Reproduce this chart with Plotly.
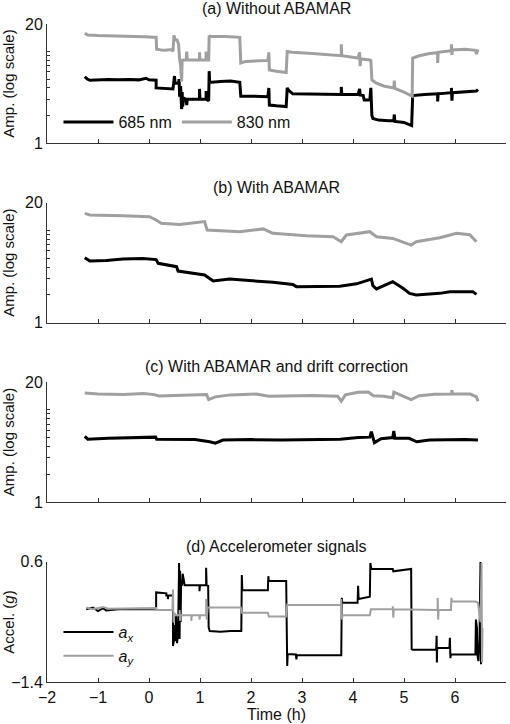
import plotly.graph_objects as go

# ---------------- data ----------------
# (a) Without ABAMAR
a685_t = [-1.26, -1.21, -1.16, -1.0, -0.8, -0.6, -0.4, -0.2, -0.06, 0.0, 0.14, 0.14, 0.30, 0.47, 0.50, 0.51,
          0.58, 0.59, 0.60, 0.62, 0.64, 0.65, 0.66, 0.68, 0.73, 0.74, 0.75, 0.99, 0.99, 1.0, 1.12, 1.12, 1.13,
          1.17, 1.18, 1.19, 1.4, 1.6, 1.78, 1.80, 2.0, 2.33, 2.35, 2.36, 2.5, 2.69, 2.71, 2.74, 2.82, 3.2, 3.5,
          3.77, 3.77, 3.78, 4.10, 4.13, 4.14, 4.20, 4.22, 4.33, 4.35, 4.37, 4.39, 4.5, 4.7, 4.80, 4.81, 4.82,
          5.0, 5.10, 5.15, 5.17, 5.25, 5.4, 5.66, 5.66, 5.67, 5.93, 5.93, 5.94, 5.95, 6.2, 6.42, 6.45]
a685_v = [5.3, 5.0, 4.85, 4.9, 4.95, 4.9, 4.95, 4.9, 5.1, 4.9, 4.85, 4.0, 3.95, 3.9, 5.4, 4.5,
          4.5, 5.0, 3.2, 4.2, 2.35, 3.6, 2.5, 3.1, 3.0, 2.6, 3.0, 3.0, 3.9, 3.0, 3.0, 3.7, 3.0,
          2.9, 6.1, 4.6, 4.7, 4.75, 4.6, 3.25, 3.25, 3.2, 4.0, 2.6, 2.55, 2.5, 4.0, 3.75, 3.45, 3.45, 3.42,
          3.4, 4.1, 3.4, 3.4, 3.9, 3.35, 3.3, 2.95, 2.95, 4.0, 2.0, 1.85, 1.78, 1.75, 1.75, 2.05, 1.72,
          1.68, 1.6, 1.55, 3.3, 3.35, 3.4, 3.45, 2.85, 3.45, 3.55, 4.0, 2.9, 3.55, 3.6, 3.7, 3.85]

a830_t = [-1.26, -1.2, -1.0, -0.7, -0.4, -0.1, 0.1, 0.14, 0.15, 0.30, 0.45, 0.47, 0.49, 0.51, 0.55, 0.58,
          0.60, 0.62, 0.64, 0.65, 0.68, 0.73, 0.74, 0.75, 0.99, 0.99, 1.0, 1.12, 1.12, 1.13, 1.17, 1.18, 1.2,
          1.5, 1.78, 1.80, 1.9, 2.2, 2.33, 2.35, 2.36, 2.5, 2.69, 2.71, 2.8, 3.2, 3.5, 3.77, 3.77, 3.78, 4.1,
          4.13, 4.14, 4.15, 4.33, 4.35, 4.37, 4.45, 4.6, 4.8, 4.81, 4.82, 5.0, 5.14, 5.16, 5.17, 5.3, 5.5,
          5.66, 5.66, 5.67, 5.93, 5.93, 5.94, 5.95, 6.2, 6.40, 6.42, 6.45]
a830_v = [15.8, 15.2, 15.0, 14.9, 14.7, 14.5, 14.3, 14.3, 10.6, 10.3, 10.5, 10.0, 15.0, 13.4, 13.4, 12.0,
          8.2, 7.0, 4.7, 8.0, 8.1, 8.1, 10.0, 8.1, 8.1, 9.8, 8.1, 8.1, 10.0, 8.1, 8.1, 15.0, 14.6,
          14.6, 14.3, 7.5, 7.8, 8.0, 8.0, 9.8, 6.3, 6.1, 5.9, 10.0, 9.8, 9.5, 9.2, 9.0, 12.0, 9.0, 8.5,
          9.8, 6.9, 8.3, 8.1, 8.0, 4.9, 4.55, 4.2, 4.0, 4.8, 3.95, 3.6, 3.3, 3.25, 8.5, 9.0, 9.5,
          9.7, 7.5, 9.8, 10.2, 12.0, 9.2, 10.4, 10.6, 10.3, 9.4, 10.5]

# (b) With ABAMAR
b685_t = [-1.26, -1.16, -0.84, -0.51, -0.12, 0.14, 0.18, 0.34, 0.54, 0.57, 0.80, 1.09, 1.19, 1.26, 1.58,
          2.11, 2.43, 2.82, 2.89, 3.74, 4.07, 4.36, 4.39, 4.46, 4.78, 4.98, 5.11, 5.24, 5.70, 5.90, 6.35, 6.42]
b685_v = [5.07, 4.66, 4.73, 4.90, 4.97, 4.83, 4.40, 4.22, 4.05, 3.63, 3.46, 3.29, 3.02, 2.83, 2.97,
          2.83, 2.74, 2.60, 2.46, 2.48, 2.64, 2.97, 2.52, 2.32, 2.78, 2.36, 2.08, 2.00, 2.08, 2.16, 2.17, 2.03]

b830_t = [-1.26, -1.16, -0.51, 0.01, 0.14, 0.24, 0.60, 0.93, 1.09, 1.14, 1.52, 1.78, 2.24, 2.43, 3.09,
          3.61, 3.77, 3.87, 4.33, 4.46, 4.78, 5.14, 5.24, 5.70, 6.03, 6.29, 6.42]
b830_v = [15.3, 14.7, 14.4, 14.1, 12.98, 11.94, 11.6, 12.24, 12.5, 10.1, 9.8, 9.7, 10.4, 9.3, 8.78,
          8.55, 7.55, 8.93, 9.7, 8.55, 8.2, 6.95, 7.55, 8.35, 9.3, 9.0, 7.55]

# (c) With ABAMAR and drift correction
c685_t = [-1.26, -1.2, -0.8, -0.3, 0.13, 0.15, 0.5, 0.9, 1.19, 1.3, 1.45, 2.0, 2.6, 3.2, 3.75, 4.1,
          4.33, 4.36, 4.42, 4.55, 4.78, 4.8, 4.82, 5.1, 5.25, 5.5, 5.9, 6.2, 6.45]
c685_v = [5.15, 4.8, 4.9, 4.95, 5.05, 4.8, 4.75, 4.75, 4.5, 4.35, 4.7, 4.75, 4.7, 4.72, 4.8, 5.0,
          5.05, 5.8, 4.4, 4.85, 5.0, 5.9, 4.9, 4.9, 4.5, 4.7, 4.75, 4.75, 4.7]

c830_t = [-1.26, -1.0, -0.5, -0.1, 0.1, 0.2, 0.5, 1.13, 1.17, 1.3, 1.6, 2.1, 2.35, 2.8, 3.2, 3.7, 3.77,
          3.85, 4.1, 4.3, 4.4, 4.6, 4.78, 4.8, 5.0, 5.14, 5.3, 5.6, 5.93, 5.94, 5.95, 6.3, 6.42, 6.45]
c830_v = [15.2, 14.8, 14.6, 15.0, 14.6, 14.1, 14.3, 14.6, 12.9, 13.8, 14.5, 14.8, 14.0, 14.2, 14.3, 14.0, 12.4,
          14.5, 15.5, 15.6, 14.2, 14.0, 13.5, 15.5, 13.8, 12.9, 14.2, 14.7, 14.8, 16.3, 14.9, 14.8, 13.8, 12.4]

# (d) Accelerometer signals
ax_t = [-1.23, -1.1, -1.0, -0.9, -0.84, -0.6, 0.14, 0.14, 0.34, 0.34, 0.37, 0.37, 0.38, 0.47, 0.47, 0.49,
        0.50, 0.51, 0.53, 0.55, 0.57, 0.59, 0.60, 0.61, 0.62, 0.63, 0.65, 0.66, 0.70, 0.99, 0.99, 1.0, 1.12,
        1.12, 1.13, 1.16, 1.17, 1.19, 1.4, 1.6, 1.81, 1.82, 1.83, 2.33, 2.34, 2.35, 2.69, 2.71, 2.72, 2.88,
        2.89, 2.90, 3.77, 3.78, 3.79, 4.09, 4.10, 4.11, 4.33, 4.34, 4.36, 4.78, 4.79, 5.14, 5.15, 5.17, 5.63,
        5.64, 5.645, 5.65, 5.89, 5.90, 5.91, 5.92, 6.40, 6.41, 6.43, 6.44, 6.46, 6.48, 6.50, 6.51, 6.52]
ax_v = [-0.19, -0.16, -0.22, -0.17, -0.21, -0.19, -0.19, 0.09, 0.075, 0.04, 0.04, -0.02, 0.04, 0.04, -0.80, -0.70,
        -0.45, -0.72, -0.30, -0.75, -0.60, 0.58, -0.68, 0.45, -0.40, 0.30, 0.20, 0.40, 0.21, 0.21, 0.11, 0.21, 0.21,
        0.50, 0.21, 0.20, -0.49, -0.55, -0.56, -0.55, -0.55, 0.38, 0.125, 0.125, 0.36, 0.28, 0.28, -1.13, -0.93, -0.94,
        -1.02, -0.95, -0.95, 0.0, -0.08, -0.08, 0.20, -0.02, 0.02, 0.58, 0.48, 0.48, 0.44, 0.48, -0.85, -0.86, -0.86,
        -0.63, -1.07, -0.83, -0.83, -0.66, -1.0, -0.94, -0.94, -0.36, -0.50, -0.95, -1.05, -0.70, 0.60, -1.10, -0.90]

ay_t = [-1.23, -1.1, -0.9, -0.8, 0.14, 0.14, 0.30, 0.46, 0.47, 0.48, 0.50, 0.52, 0.60, 0.60, 0.61, 0.62,
        0.83, 0.83, 0.84, 0.99, 0.99, 1.0, 1.12, 1.12, 1.13, 1.15, 1.8, 1.82, 2.33, 2.35, 2.69, 2.71, 2.75,
        3.77, 3.77, 3.78, 3.80, 4.33, 4.35, 4.78, 4.78, 4.79, 4.80, 5.14, 5.16, 5.66, 5.66, 5.67, 5.68, 5.92,
        5.93, 5.94, 6.40, 6.45, 6.50, 6.52, 6.53, 6.54]
ay_v = [-0.16, -0.19, -0.15, -0.18, -0.17, -0.20, -0.20, -0.20, 0.14, -0.41, -0.25, -0.29, -0.29, -0.20, -0.38, -0.29,
        -0.29, -0.38, -0.29, -0.29, -0.36, -0.29, -0.29, -0.02, -0.36, -0.16, -0.16, -0.245, -0.245, -0.31, -0.31, -0.11, -0.12,
        -0.12, -0.02, -0.36, -0.29, -0.29, -0.19, -0.19, -0.14, -0.33, -0.19, -0.19, -0.20, -0.20, 0.0, -0.36, -0.20, -0.20,
        0.0, -0.06, -0.06, -0.08, -0.40, 0.58, -1.07, -0.50]

x_ticks = [-2, -1, 0, 1, 2, 3, 4, 5, 6, 7]
amp_ticks = [1, 20]
amp_minor = [2, 3, 4, 5, 6, 7, 8, 9, 10]
acc_ticks = [-1.4, 0.6]
acc_ticktext = ["\u22121.4", "0.6"]
panel_titles = ["(a) Without ABAMAR", "(b) With ABAMAR", "(c) With ABAMAR and drift correction",
                "(d) Accelerometer signals"]

# ---------------- figure ----------------
BLACK = "#000000"
GRAY = "#a0a0a0"
FONT = "Liberation Sans, Arial, sans-serif"
W, H = 510, 724
ML, MR = 47, 4

# pixel extents (top, bottom) of each plot area
panels_px = [(24, 143), (202.7, 322.7), (382, 502), (561.7, 682.3)]
doms = [[1 - b / H, 1 - t / H] for t, b in panels_px]

fig = go.Figure()
series = [
    (a685_t, a685_v, "685 nm", BLACK, 1, True, "legend"),
    (a830_t, a830_v, "830 nm", GRAY, 1, True, "legend"),
    (b685_t, b685_v, "685 nm", BLACK, 2, False, "legend"),
    (b830_t, b830_v, "830 nm", GRAY, 2, False, "legend"),
    (c685_t, c685_v, "685 nm", BLACK, 3, False, "legend"),
    (c830_t, c830_v, "830 nm", GRAY, 3, False, "legend"),
    (ax_t, ax_v, "<i>a</i><sub><i>x</i></sub>", BLACK, 4, True, "legend2"),
    (ay_t, ay_v, "<i>a</i><sub><i>y</i></sub>", GRAY, 4, True, "legend2"),
]
for t, v, name, col, k, show, leg in series:
    sfx = "" if k == 1 else str(k)
    fig.add_trace(go.Scatter(x=t, y=v, mode="lines", name=name,
                             line=dict(color=col, width=3 if k < 4 else 2),
                             xaxis="x" + sfx, yaxis="y" + sfx, showlegend=show, legend=leg))

layout = dict(width=W, height=H, margin=dict(l=ML, r=MR, t=0, b=0),
              paper_bgcolor="white", plot_bgcolor="white",
              font=dict(family=FONT, size=16, color="#111111"))

for k in range(1, 5):
    sfx = "" if k == 1 else str(k)
    xa = dict(domain=[0, 1], range=[-2, 7], tickvals=x_ticks, ticks="inside", ticklen=4,
              tickcolor="#333", showline=True, linecolor="#333", linewidth=1, showgrid=False,
              zeroline=False, anchor="y" + sfx, showticklabels=(k == 4), automargin=False,
              tickfont=dict(size=16))
    if k == 4:
        xa["title"] = dict(text="Time (h)", font=dict(size=16), standoff=4)
    layout["xaxis" + sfx] = xa
    if k < 4:
        ya = dict(domain=doms[k - 1], type="log", range=[0, 1.30103], tickvals=amp_ticks,
                  ticktext=["1", "20"], ticks="inside", ticklen=5, tickcolor="#333",
                  minor=dict(tickvals=amp_minor, ticks="inside", ticklen=3, tickcolor="#333"),
                  title=dict(text="Amp. (log scale)", font=dict(size=15), standoff=8))
    else:
        ya = dict(domain=doms[3], range=[-1.4, 0.6], tickvals=acc_ticks, ticktext=acc_ticktext,
                  ticks="inside", ticklen=5, tickcolor="#333",
                  title=dict(text="Accel. (<i>g</i>)", font=dict(size=15), standoff=2))
    ya.update(showline=True, linecolor="#333", linewidth=1, showgrid=False, zeroline=False,
              anchor="x" + sfx, automargin=False, tickfont=dict(size=16))
    layout["yaxis" + sfx] = ya

layout["legend"] = dict(orientation="h", x=0.025, y=1 - 122 / H, xanchor="left", yanchor="middle",
                        bgcolor="rgba(0,0,0,0)", font=dict(size=16), itemwidth=50)
layout["legend2"] = dict(orientation="v", x=0.025, y=1 - 644 / H, xanchor="left", yanchor="middle",
                         bgcolor="rgba(0,0,0,0)", font=dict(size=16), itemwidth=50)

annotations = []
for (t, b), title in zip(panels_px, panel_titles):
    annotations.append(dict(text=title, xref="paper", yref="paper", x=0.5, y=1 - (t - 15.5) / H,
                            xanchor="center", yanchor="middle", showarrow=False, font=dict(size=16)))
layout["annotations"] = annotations

fig.update_layout(**layout)
fig.write_html("out.html", config={"displayModeBar": False},
               post_script="document.body.style.margin='0';document.body.style.overflow='hidden';")
